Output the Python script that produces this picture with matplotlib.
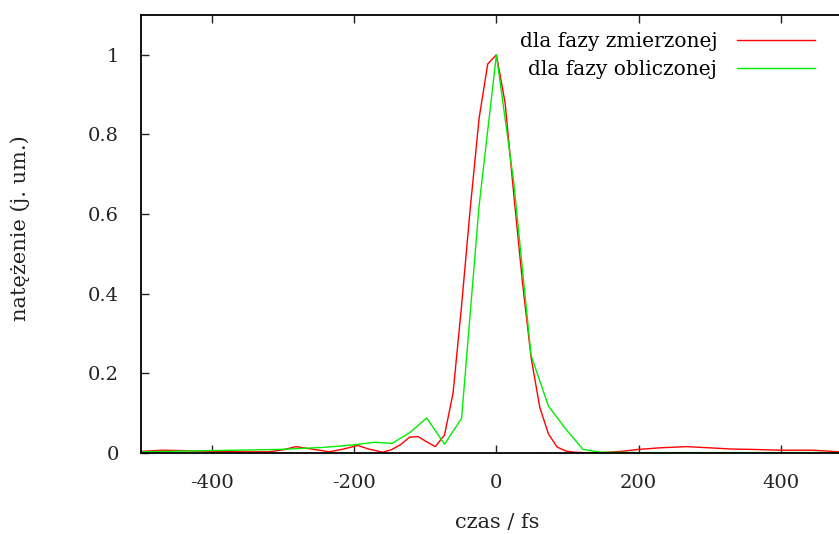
import matplotlib
matplotlib.use('Agg')
import matplotlib.pyplot as plt

plt.rcParams['font.family'] = ['DejaVu Serif']
plt.rcParams['axes.unicode_minus'] = False

# dane
t_zm = [-500, -470, -440, -400, -360, -320, -300, -282, -260, -235, -215, -195, -180, -160,
        -148, -134, -122, -110, -98, -86, -73, -61, -49, -37, -24.4, -12.2, 0,
        12.2, 24.4, 36.6, 48.8, 61, 73.2, 85.4, 97.6, 110, 122, 150, 175, 200, 230, 267,
        300, 330, 360, 400, 445, 482]
i_zm = [0.004, 0.007, 0.006, 0.004, 0.003, 0.003, 0.008, 0.016, 0.010, 0.003, 0.010, 0.019, 0.010, 0.002,
        0.008, 0.022, 0.040, 0.041, 0.028, 0.016, 0.045, 0.150, 0.37, 0.61, 0.84, 0.977, 1.0,
        0.88, 0.65, 0.43, 0.24, 0.115, 0.048, 0.015, 0.005, 0.002, 0.001, 0.001, 0.004, 0.009, 0.013, 0.016,
        0.013, 0.010, 0.009, 0.007, 0.007, 0.003]

t_obl = [-500, -400, -305, -244, -203, -171, -147, -122, -98, -73, -49, -24.4, 0,
         24.4, 48.8, 73.2, 97.6, 122, 146, 200, 300, 400, 482]
i_obl = [0.003, 0.006, 0.009, 0.014, 0.020, 0.027, 0.024, 0.051, 0.088, 0.022, 0.087, 0.62, 1.0,
         0.68, 0.245, 0.118, 0.06, 0.009, 0.002, 0.001, 0.001, 0.001, 0.001]

xticks = [-400, -200, 0, 200, 400]
yticks = [0, 0.2, 0.4, 0.6, 0.8, 1]
ylabels = ['0', '0.2', '0.4', '0.6', '0.8', '1']

fig = plt.figure(figsize=(8.39, 5.34), dpi=100)
ax = fig.add_axes([141/839, 81/534, 1 - 141/839, 438/534])

ax.plot(t_zm, i_zm, color='#ff0000', lw=1.0, label='dla fazy zmierzonej')
ax.plot(t_obl, i_obl, color='#00ee00', lw=1.0, label='dla fazy obliczonej')

ax.set_xlim(-500, 482)
ax.set_ylim(0, 1.1)
ax.set_xticks(xticks)
ax.set_yticks(yticks)
ax.set_yticklabels(ylabels)
ax.tick_params(direction='in', length=6, width=1, labelsize=14, top=True, right=False,
               colors='#222222')
ax.tick_params(axis='y', pad=16)
ax.tick_params(axis='x', pad=15)
ax.spines['right'].set_visible(False)
for s in ['left', 'bottom', 'top']:
    ax.spines[s].set_linewidth(1.3)

fig.text(497/839, 1 - 522/534, 'czas / fs', ha='center', va='center', fontsize=15, color='#222222')
fig.text(20/839, 1 - 228/534, 'natężenie (j. um.)', ha='center', va='center',
         rotation=90, fontsize=15, color='#222222')

ax.legend(loc='upper right', bbox_to_anchor=((831 - 141)/698, 0.998), frameon=False,
          markerfirst=False, fontsize=14.5, handlelength=3.85, handletextpad=1.0,
          labelspacing=0.45, borderaxespad=0.4)

fig.savefig('out.png', dpi=100)
